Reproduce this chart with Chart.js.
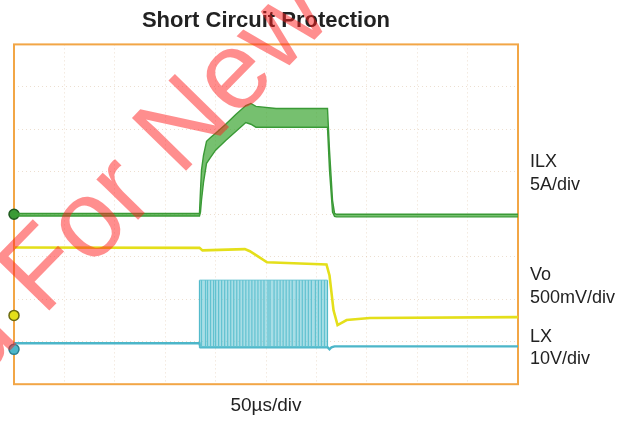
<!DOCTYPE html>
<html>
<head>
<meta charset="utf-8">
<script src="https://cdn.jsdelivr.net/npm/chart.js@4.4.1/dist/chart.umd.min.js"></script>
<style>
  html, body { margin: 0; padding: 0; background: #fff; }
  canvas { display: block; }
</style>
</head>
<body>
<canvas id="scope" width="629" height="421"></canvas>
<script>
// time in µs (50µs/div, 10 div), levels in screen divisions from the bottom (8 div)
const ilxTime  = [0, 184, 185, 186, 188, 191, 195, 200, 210, 220, 230, 235, 240, 260, 280, 300, 311, 313, 316, 318, 320, 500];
const ilxUpper = [4.02, 4.02, 4.56, 5.04, 5.39, 5.72, 5.81, 5.91, 6.12, 6.35, 6.56, 6.61, 6.54, 6.49, 6.49, 6.49, 6.49, 5.51, 4.33, 4.02, 4.0, 4.0];
const ilxLower = [3.96, 3.96, 4.05, 4.33, 4.75, 5.2, 5.34, 5.51, 5.74, 5.95, 6.16, 6.12, 6.05, 6.05, 6.05, 6.05, 6.05, 5.04, 4.05, 3.95, 3.94, 3.94];

const voTime  = [0, 184, 187, 229, 234, 242, 251, 284, 310, 313, 317, 321, 330, 353, 500];
const voLevel = [3.22, 3.21, 3.15, 3.18, 3.13, 3.01, 2.87, 2.84, 2.82, 2.56, 1.74, 1.39, 1.51, 1.56, 1.58];

const lxTime  = [0, 184, 185, 311, 313, 315, 318, 500];
const lxLevel = [0.965, 0.965, 0.87, 0.87, 0.82, 0.87, 0.89, 0.89];
const lxPulseTimes = [184, 186, 190, 192, 195, 198, 200, 203, 206, 209, 212, 215, 218, 221, 224, 227, 230, 233, 236,
  239, 242, 245, 248, 252, 254, 258, 261, 264, 267, 270, 273, 276, 280, 283, 286, 289, 292, 295, 299, 302, 305, 308, 311];
const lxPulseLow = 0.87;
const lxPulseHigh = 2.45;

const markerLevels = [4.0, 1.62, 0.82];   // ILX, Vo, LX reference markers

const channelNames  = ['ILX', 'Vo', 'LX'];
const channelScales = ['5A/div', '500mV/div', '10V/div'];

const FONT = "'Liberation Sans', Arial, Helvetica, sans-serif";

const pts = (xs, ys) => xs.map((x, i) => ({ x: x, y: ys[i] }));

const pulsePoints = lxPulseTimes.flatMap(t => [
  { x: t, y: lxPulseLow }, { x: t, y: lxPulseHigh }, { x: t, y: lxPulseLow }
]);

// orange scope frame
const framePlugin = {
  id: 'frame',
  beforeDatasetsDraw(chart) {
    const { ctx, chartArea: a } = chart;
    ctx.save();
    ctx.strokeStyle = '#f2a646';
    ctx.lineWidth = 2;
    ctx.strokeRect(a.left, a.top, a.right - a.left, a.bottom - a.top);
    ctx.restore();
  }
};

// channel labels on the right
const labelPlugin = {
  id: 'channelLabels',
  afterDraw(chart) {
    const ctx = chart.ctx;
    const rows = [[167, 190], [280, 303], [342, 364]];
    ctx.save();
    ctx.fillStyle = '#222';
    ctx.font = '18px ' + FONT;
    ctx.textAlign = 'left';
    ctx.textBaseline = 'alphabetic';
    channelNames.forEach((name, i) => {
      ctx.fillText(name, 530, rows[i][0]);
      ctx.fillText(channelScales[i], 530, rows[i][1]);
    });
    ctx.restore();
  }
};

// red diagonal watermark
const watermarkPlugin = {
  id: 'watermark',
  afterDraw(chart) {
    const ctx = chart.ctx;
    ctx.save();
    ctx.font = '110px ' + FONT;
    ctx.fillStyle = 'rgba(255, 30, 30, 0.5)';
    ctx.translate(43, 317);
    ctx.rotate(-45.6 * Math.PI / 180);
    const pre = 'Not Recommended ';
    ctx.fillText(pre + 'For New Designs', -ctx.measureText(pre).width, 0);
    ctx.restore();
  }
};

new Chart(document.getElementById('scope'), {
  type: 'line',
  data: {
    datasets: [
      {
        label: 'ILX low',
        data: pts(ilxTime, ilxLower),
        borderColor: '#3a9a36',
        borderWidth: 1.4,
        fill: false
      },
      {
        label: 'ILX high',
        data: pts(ilxTime, ilxUpper),
        borderColor: '#3a9a36',
        borderWidth: 1.4,
        backgroundColor: 'rgba(60, 165, 50, 0.7)',
        fill: '-1'
      },
      {
        label: 'Vo',
        data: pts(voTime, voLevel),
        borderColor: '#e4df1a',
        borderWidth: 2.6,
        fill: false
      },
      {
        label: 'LX switching',
        data: [{ x: lxPulseTimes[0], y: lxPulseHigh }, { x: lxPulseTimes[lxPulseTimes.length - 1], y: lxPulseHigh }],
        borderColor: 'rgba(90, 190, 205, 0.9)',
        borderWidth: 1,
        backgroundColor: 'rgba(110, 200, 214, 0.6)',
        fill: { value: lxPulseLow }
      },
      {
        label: 'LX pulses',
        data: pulsePoints,
        borderColor: '#4fb8c9',
        borderWidth: 1.2,
        fill: false
      },
      {
        label: 'LX',
        data: pts(lxTime, lxLevel),
        borderColor: '#4cb6c9',
        borderWidth: 2.4,
        fill: false
      },
      {
        label: 'markers',
        data: markerLevels.map(v => ({ x: 0, y: v })),
        showLine: false,
        pointRadius: 5,
        pointBorderWidth: 1.5,
        pointBackgroundColor: ['#3a9a36', '#e4df1a', '#4cb6c9'],
        pointBorderColor: ['#1f5a1f', '#6b6a10', '#2b7f8f'],
        clip: false
      }
    ]
  },
  options: {
    responsive: false,
    animation: false,
    events: [],
    layout: { padding: { left: 14, right: 111, top: 0, bottom: 1 } },
    elements: {
      point: { radius: 0 },
      line: { tension: 0 }
    },
    plugins: {
      legend: { display: false },
      tooltip: { enabled: false },
      title: {
        display: true,
        text: 'Short Circuit Protection',
        color: '#222',
        font: { family: FONT, size: 22, weight: 'bold' },
        padding: { top: 8, bottom: 10 }
      }
    },
    scales: {
      x: {
        type: 'linear',
        min: 0,
        max: 500,
        offset: false,
        ticks: { display: false, stepSize: 50 },
        grid: { color: 'rgba(215, 185, 150, 0.45)', drawTicks: false, offset: false },
        border: { display: false, dash: [1, 3] },
        title: {
          display: true,
          text: '50µs/div',
          color: '#222',
          font: { family: FONT, size: 19 },
          padding: { top: 10, bottom: 3 }
        }
      },
      y: {
        min: 0,
        max: 8,
        ticks: { display: false, stepSize: 1 },
        grid: { color: 'rgba(215, 185, 150, 0.45)', drawTicks: false },
        border: { display: false, dash: [1, 3] }
      }
    }
  },
  plugins: [framePlugin, labelPlugin, watermarkPlugin]
});
</script>
</body>
</html>
